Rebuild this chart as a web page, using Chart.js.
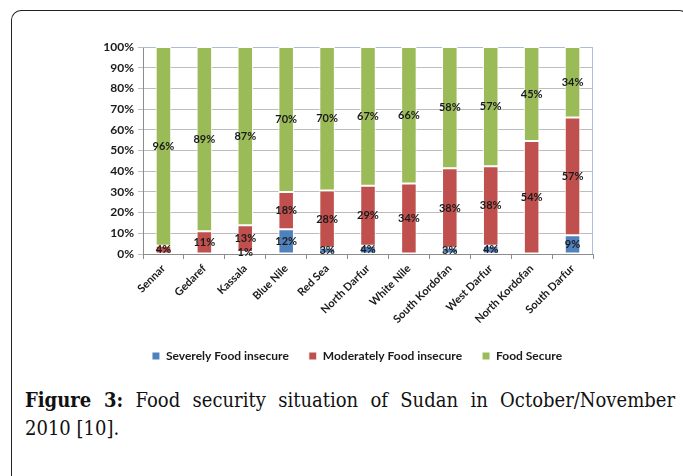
<!DOCTYPE html>
<html>
<head>
<meta charset="utf-8">
<script src="https://cdn.jsdelivr.net/npm/chart.js@4"></script>
<style>
    body { margin: 0; background: #fff; width: 683px; height: 476px; overflow: hidden; position: relative; }
    #frame {
        position: absolute; left: 11px; top: 10px; width: 676px; height: 480px;
        border-left: 1.5px solid #222; border-top: 1.5px solid #222; border-right: 1.5px solid #222;
        border-radius: 10px 10px 0 0;
    }
    #chartBox { position: absolute; left: 0; top: 0; }
    .cap {
        position: absolute; left: 25px; width: 650px;
        font-family: "DejaVu Serif", "Liberation Serif", serif; font-stretch: condensed;
        font-size: 20px; line-height: 28px; color: #111; white-space: nowrap;
    }
    #cap1 { top: 386px; text-align: justify; text-align-last: justify; }
    #cap2 { top: 414px; }
</style>
</head>
<body>
<div id="frame"></div>
<canvas id="chartBox" width="714" height="372"></canvas>
<div class="cap" id="cap1"><b>Figure 3:</b> Food security situation of Sudan in October/November</div>
<div class="cap" id="cap2">2010 [10].</div>

<script>
// Regions of Sudan
const regions = ['Sennar', 'Gedaref', 'Kassala', 'Blue Nile', 'Red Sea', 'North Darfur',
    'White Nile', 'South Kordofan', 'West Darfur', 'North Kordofan', 'South Darfur'];

// Share of households (%) in each group
const severelyInsecure = [0, 0, 1, 12, 3, 4, 0, 3, 4, 0, 9];
const moderatelyInsecure = [4, 11, 13, 18, 28, 29, 34, 38, 38, 54, 57];
const foodSecure = [96, 89, 87, 70, 70, 67, 66, 58, 57, 45, 34];

const yTicks = [0, 10, 20, 30, 40, 50, 60, 70, 80, 90, 100];

const labelFont = "Lato, 'Liberation Sans', sans-serif";

// 100% stacked: each column is scaled so its groups fill the whole height
const totals = regions.map((r, i) => severelyInsecure[i] + moderatelyInsecure[i] + foodSecure[i]);
const toShare = arr => arr.map((v, i) => v / totals[i] * 100);

// Writes each segment's percentage in the middle of it
const segmentLabels = {
    id: 'segmentLabels',
    afterDatasetsDraw(chart) {
        const ctx = chart.ctx;
        ctx.save();
        ctx.font = 'bold 11px ' + labelFont;
        ctx.fillStyle = '#1a1a1a';
        ctx.textAlign = 'center';
        ctx.textBaseline = 'middle';
        chart.data.datasets.forEach((ds, di) => {
            const meta = chart.getDatasetMeta(di);
            meta.data.forEach((bar, i) => {
                const v = ds.raw[i];
                if (!v) return;
                const mid = (bar.y + bar.base) / 2;
                ctx.fillText(v + '%', bar.x, mid);
            });
        });
        ctx.restore();
    }
};

// Light blue frame on the top and right of the plot area
const plotBorder = {
    id: 'plotBorder',
    beforeDatasetsDraw(chart) {
        const { ctx, chartArea: a } = chart;
        ctx.save();
        ctx.strokeStyle = '#a9bfdc';
        ctx.lineWidth = 1;
        ctx.beginPath();
        ctx.moveTo(a.left, a.top + 0.5);
        ctx.lineTo(a.right - 0.5, a.top + 0.5);
        ctx.lineTo(a.right - 0.5, a.bottom);
        ctx.stroke();
        ctx.restore();
    }
};

const ctx = document.getElementById('chartBox').getContext('2d');

new Chart(ctx, {
    type: 'bar',
    data: {
        labels: regions,
        datasets: [
            { label: 'Severely Food insecure', raw: severelyInsecure, backgroundColor: '#4f81bd' },
            { label: 'Moderately Food insecure', raw: moderatelyInsecure, backgroundColor: '#c0504d' },
            { label: 'Food Secure', raw: foodSecure, backgroundColor: '#9bbb59' }
        ].map(ds => Object.assign(ds, {
            data: toShare(ds.raw),
            borderColor: '#ffffff',
            borderWidth: 1,
            borderSkipped: false,
            barPercentage: 0.38,
            categoryPercentage: 1.0
        }))
    },
    options: {
        responsive: false,
        animation: false,
        layout: { padding: { left: 0, top: 47, right: 0, bottom: 0 } },
        scales: {
            x: {
                stacked: true,
                grid: {
                    offset: true,
                    drawOnChartArea: false,
                    color: '#8c8c8c',
                    tickLength: 5
                },
                border: { color: '#8c8c8c' },
                ticks: {
                    minRotation: 45,
                    maxRotation: 45,
                    autoSkip: false,
                    color: '#1a1a1a',
                    font: { family: labelFont, size: 11, weight: 'bold' }
                },
                afterFit(scale) { scale.height = 76; }
            },
            y: {
                stacked: true,
                min: 0,
                max: 100,
                afterBuildTicks(scale) { scale.ticks = yTicks.map(v => ({ value: v })); },
                grid: { color: '#bdbdbd', tickLength: 5 },
                border: { color: '#8c8c8c' },
                ticks: {
                    color: '#1a1a1a',
                    padding: 4,
                    font: { family: labelFont, size: 12, weight: 'bold' },
                    callback: v => v + '%'
                },
                afterFit(scale) { scale.width = 143; }
            },
            // empty space on the right so the legend sits centred under the bars
            spacer: {
                position: 'right',
                grid: { display: false },
                border: { display: false },
                ticks: { display: false },
                afterFit(scale) { scale.width = 121; }
            }
        },
        plugins: {
            legend: {
                position: 'bottom',
                labels: {
                    boxWidth: 8,
                    boxHeight: 8,
                    padding: 20,
                    color: '#1a1a1a',
                    font: { family: labelFont, size: 12, weight: 'bold' }
                }
            },
            tooltip: { enabled: false }
        }
    },
    plugins: [plotBorder, segmentLabels]
});
</script>
</body>
</html>
